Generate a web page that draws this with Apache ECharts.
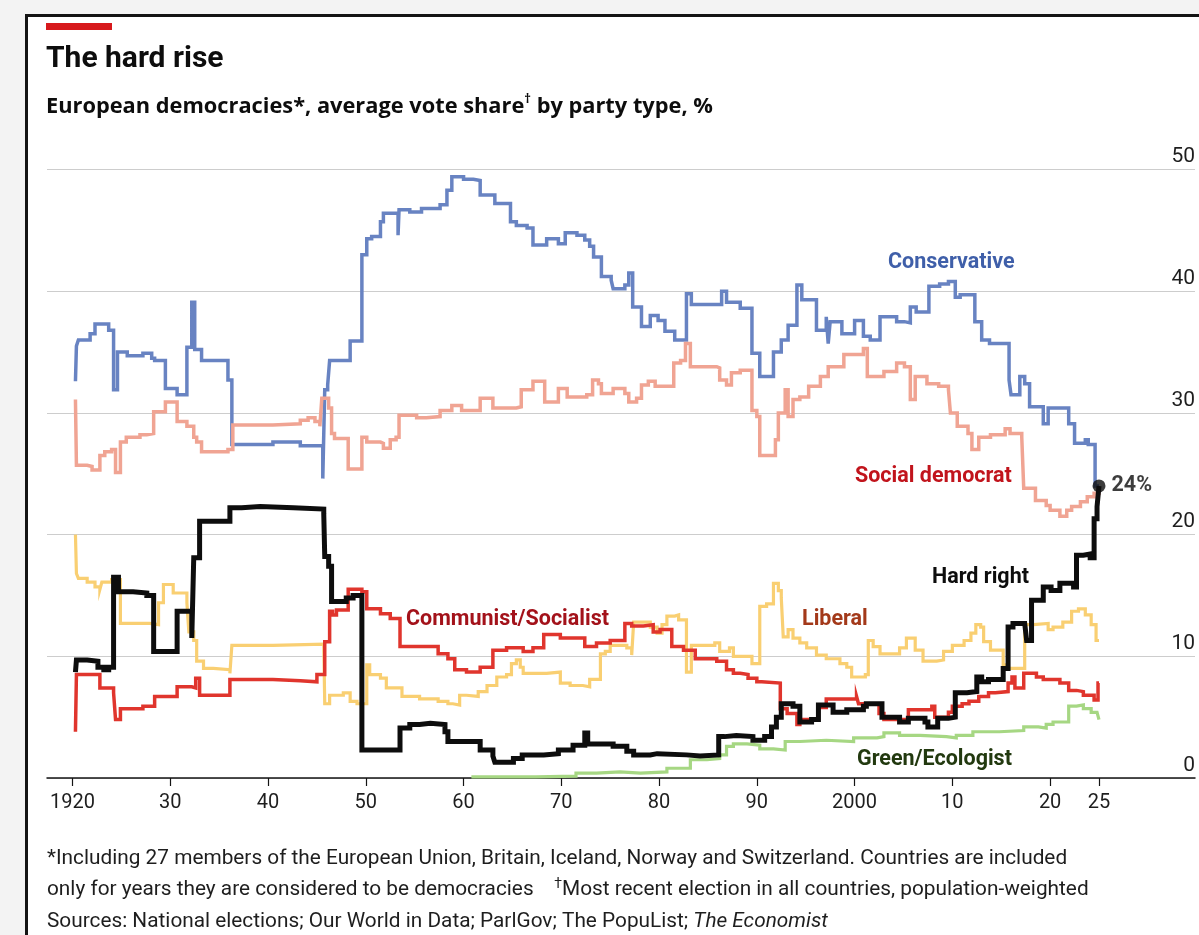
<!DOCTYPE html>
<html>
<head>
<meta charset="utf-8">
<script src="https://cdn.jsdelivr.net/npm/echarts@6/dist/echarts.min.js"></script>
<style>
  html, body { margin: 0; padding: 0; width: 1199px; height: 935px; overflow: hidden; background: #f3f3f3; }
  #card { position: absolute; left: 25px; top: 14px; width: 1300px; height: 1000px; background: #ffffff;
          border-left: 3px solid #141414; border-top: 3px solid #141414; }
  #chart { position: absolute; left: 0; top: 0; width: 1199px; height: 935px; }
</style>
</head>
<body>
<div id="card"></div>
<div id="chart"></div>
<script>
// Average vote share by party family, European democracies, 1920-2025 (% of vote)
const conservativeYears = [1920.3, 1920.4, 1920.6, 1921.8, 1922.3, 1923.7, 1924.2, 1924.6, 1925.6, 1927.2, 1928.1, 1928.4, 1929.5, 1930.7, 1931.7, 1932.2, 1932.5, 1933.2, 1935.9, 1936.3, 1940.5, 1943.3, 1945.6, 1945.8, 1946.1, 1946.3, 1948.4, 1949.6, 1950.1, 1950.6, 1951.5, 1951.8, 1953.3, 1953.4, 1954.5, 1955.7, 1957.6, 1958.3, 1958.8, 1960.0, 1961.0, 1961.7, 1963.2, 1964.8, 1965.4, 1966.5, 1967.1, 1968.5, 1969.7, 1970.4, 1971.6, 1972.4, 1972.9, 1973.3, 1974.1, 1975.1, 1975.3, 1976.5, 1976.9, 1977.3, 1978.2, 1979.1, 1979.9, 1980.6, 1981.6, 1982.8, 1983.3, 1986.4, 1986.9, 1988.3, 1989.5, 1990.3, 1991.7, 1992.5, 1993.2, 1994.1, 1994.6, 1996.1, 1997.1, 1997.3, 1997.5, 1998.7, 2000.0, 2000.9, 2001.6, 2002.6, 2004.3, 2005.1, 2005.7, 2006.3, 2007.6, 2008.7, 2009.6, 2010.3, 2010.8, 2012.3, 2013.0, 2013.8, 2015.8, 2016.0, 2016.9, 2017.4, 2017.9, 2019.3, 2019.8, 2021.9, 2022.5, 2023.6, 2023.9, 2024.6, 2025];
const conservativeShare = [32.6, 35.5, 36.0, 36.5, 37.3, 36.8, 31.9, 35.0, 34.7, 34.9, 34.5, 34.3, 32.0, 31.5, 35.4, 39.1, 35.2, 34.3, 32.7, 27.4, 27.6, 27.3, 24.6, 31.9, 32.3, 34.3, 35.9, 43.0, 44.3, 44.5, 45.7, 46.4, 44.6, 46.7, 46.5, 46.8, 47.1, 48.3, 49.4, 49.2, 49.1, 47.9, 47.2, 45.7, 45.4, 45.2, 43.8, 44.3, 43.9, 44.8, 44.6, 44.2, 43.7, 42.8, 41.2, 40.9, 40.2, 40.5, 41.5, 38.7, 37.1, 38.0, 37.6, 36.7, 36.0, 39.8, 38.9, 40.0, 39.1, 38.6, 34.9, 33.0, 35.0, 36.0, 37.2, 40.5, 39.3, 36.8, 37.9, 35.7, 37.5, 36.5, 37.6, 36.3, 36.0, 37.9, 37.5, 37.4, 38.7, 38.3, 40.4, 40.6, 40.8, 39.5, 39.7, 37.5, 36.0, 35.7, 32.7, 31.5, 33.0, 32.4, 30.5, 29.1, 30.4, 29.1, 27.5, 27.8, 27.4, 24.0, 24.0];

const socialDemYears = [1920.3, 1920.4, 1921.5, 1922.0, 1922.8, 1923.3, 1924.0, 1924.4, 1924.9, 1925.5, 1926.9, 1927.6, 1928.3, 1929.5, 1930.7, 1931.7, 1932.4, 1932.7, 1933.2, 1935.9, 1936.4, 1940.5, 1943.3, 1944.1, 1944.8, 1945.3, 1945.5, 1946.2, 1946.5, 1946.8, 1948.2, 1949.6, 1950.1, 1951.5, 1951.8, 1952.5, 1953.1, 1953.4, 1955.2, 1956.2, 1957.6, 1958.8, 1959.8, 1961.7, 1963.0, 1965.4, 1965.9, 1967.1, 1968.3, 1969.7, 1970.6, 1972.6, 1973.2, 1973.8, 1974.1, 1975.3, 1976.5, 1976.9, 1977.7, 1978.2, 1978.9, 1979.6, 1981.5, 1982.2, 1982.7, 1983.2, 1985.9, 1986.2, 1986.9, 1987.4, 1988.3, 1989.5, 1990.0, 1990.3, 1991.9, 1992.2, 1992.9, 1993.2, 1993.7, 1994.4, 1995.3, 1996.5, 1997.3, 1998.9, 2000.9, 2001.3, 2003.0, 2004.3, 2005.1, 2005.7, 2006.2, 2007.4, 2008.6, 2009.6, 2009.8, 2010.5, 2011.6, 2012.0, 2012.7, 2013.9, 2015.4, 2015.9, 2017.1, 2017.3, 2018.5, 2019.6, 2020.0, 2021.0, 2021.7, 2022.2, 2023.1, 2023.8, 2024.5, 2025];
const socialDemShare = [31.1, 25.7, 25.6, 25.3, 26.5, 26.8, 27.0, 25.1, 27.6, 28.0, 28.2, 28.3, 30.1, 30.9, 29.3, 28.9, 28.0, 27.6, 26.8, 27.0, 29.0, 29.1, 29.4, 29.6, 29.3, 28.9, 31.2, 30.4, 28.3, 27.9, 25.4, 28.0, 27.6, 27.5, 27.1, 27.8, 28.0, 29.8, 29.6, 29.7, 30.2, 30.6, 30.2, 31.2, 30.4, 30.5, 31.9, 32.6, 30.9, 32.0, 31.3, 31.5, 32.7, 32.4, 31.6, 32.0, 31.6, 30.9, 31.2, 32.3, 32.6, 32.2, 34.1, 34.3, 35.7, 33.8, 33.7, 32.7, 32.3, 33.3, 33.5, 30.2, 29.7, 26.5, 27.8, 30.0, 31.9, 29.7, 31.1, 31.3, 32.2, 33.0, 33.8, 34.8, 35.3, 33.0, 33.4, 34.1, 33.8, 31.1, 33.0, 32.4, 32.2, 31.9, 30.0, 28.9, 28.3, 27.0, 28.0, 28.2, 28.7, 28.3, 28.0, 23.8, 22.8, 22.4, 22.0, 21.5, 22.0, 22.3, 22.7, 23.1, 23.4, 23.6];

const liberalYears = [1920.3, 1920.4, 1920.6, 1921.5, 1922.3, 1922.8, 1923.0, 1924.0, 1924.9, 1927.9, 1928.8, 1929.3, 1930.3, 1931.7, 1931.9, 1932.4, 1932.7, 1933.4, 1934.4, 1936.1, 1936.3, 1940.5, 1945.7, 1945.8, 1946.3, 1947.7, 1948.4, 1949.1, 1950.1, 1950.4, 1951.5, 1952.1, 1953.7, 1955.5, 1957.4, 1958.4, 1958.9, 1959.6, 1960.3, 1961.5, 1962.4, 1963.4, 1964.4, 1964.9, 1965.4, 1965.8, 1966.1, 1968.5, 1969.9, 1970.9, 1972.2, 1972.9, 1974.0, 1974.5, 1975.0, 1976.7, 1977.2, 1977.4, 1979.1, 1979.8, 1980.3, 1980.8, 1981.6, 1982.0, 1982.8, 1983.3, 1985.7, 1986.2, 1987.2, 1987.6, 1989.5, 1990.3, 1991.0, 1991.7, 1992.2, 1992.5, 1992.7, 1993.2, 1993.7, 1994.4, 1995.1, 1996.1, 1997.1, 1998.5, 1999.2, 1999.7, 2001.1, 2001.4, 2001.9, 2002.6, 2004.6, 2005.3, 2006.2, 2007.0, 2008.4, 2009.1, 2010.0, 2011.2, 2011.9, 2012.4, 2012.9, 2013.2, 2013.9, 2015.2, 2015.7, 2017.4, 2018.3, 2019.8, 2020.3, 2021.3, 2022.2, 2022.9, 2023.6, 2024.2, 2024.7, 2025];
const liberalShare = [20.0, 16.8, 16.4, 16.1, 15.7, 15.5, 16.1, 16.3, 12.7, 12.6, 14.4, 15.9, 15.2, 14.4, 12.0, 11.3, 9.6, 9.0, 8.9, 8.6, 10.9, 11.0, 11.1, 6.1, 6.8, 7.0, 6.3, 6.1, 9.3, 8.5, 8.2, 7.4, 6.7, 6.5, 6.3, 6.1, 6.0, 6.8, 6.7, 7.1, 7.6, 8.3, 8.5, 9.4, 9.7, 9.1, 8.6, 8.7, 7.8, 7.6, 7.5, 8.1, 10.2, 10.4, 10.9, 10.7, 10.1, 12.8, 12.4, 11.9, 12.6, 13.3, 13.4, 13.0, 8.7, 10.9, 11.1, 10.4, 10.7, 10.0, 9.4, 14.1, 14.3, 16.0, 15.4, 14.8, 11.6, 12.2, 11.5, 11.1, 10.7, 10.1, 9.8, 9.4, 9.1, 8.3, 8.5, 11.3, 10.8, 10.2, 10.7, 11.5, 10.5, 9.6, 9.7, 10.4, 10.9, 11.3, 11.9, 12.6, 12.4, 11.2, 10.5, 9.3, 9.0, 12.6, 12.7, 12.2, 12.4, 12.8, 13.7, 13.9, 13.4, 12.6, 11.3, 11.3];

const communistYears = [1920.3, 1920.4, 1922.8, 1924.2, 1924.4, 1924.9, 1927.2, 1928.4, 1930.7, 1932.2, 1932.6, 1933.0, 1936.1, 1940.5, 1943.3, 1945.0, 1945.8, 1946.3, 1946.6, 1947.0, 1948.2, 1949.6, 1950.1, 1951.5, 1952.5, 1953.5, 1957.4, 1958.4, 1959.1, 1960.3, 1961.7, 1963.0, 1964.4, 1966.1, 1967.1, 1968.2, 1969.9, 1972.4, 1973.6, 1975.0, 1976.5, 1977.2, 1978.4, 1979.4, 1980.1, 1981.3, 1982.5, 1983.7, 1985.9, 1986.9, 1987.6, 1988.3, 1989.1, 1990.0, 1990.5, 1992.4, 1993.1, 1994.1, 1994.4, 1996.3, 1997.1, 2000.2, 2000.4, 2002.5, 2003.0, 2005.5, 2007.9, 2008.2, 2009.6, 2010.0, 2011.0, 2011.7, 2012.7, 2013.7, 2014.4, 2015.7, 2016.1, 2016.4, 2017.3, 2018.6, 2019.3, 2021.0, 2021.9, 2022.7, 2023.4, 2024.5, 2024.9, 2025];
const communistShare = [3.8, 8.5, 7.4, 7.0, 4.8, 5.7, 5.9, 6.7, 7.5, 7.4, 8.2, 6.8, 8.1, 8.0, 7.9, 8.5, 11.2, 13.7, 13.4, 13.8, 15.5, 15.3, 13.9, 13.5, 13.1, 10.8, 10.2, 9.8, 8.9, 8.7, 9.1, 10.5, 10.7, 10.4, 10.7, 11.8, 11.5, 10.8, 11.1, 11.3, 12.7, 12.5, 12.6, 12.0, 12.2, 10.8, 10.5, 9.8, 9.6, 8.9, 8.6, 8.5, 8.2, 7.9, 7.8, 5.7, 5.3, 4.4, 4.8, 5.8, 6.5, 6.7, 6.1, 5.3, 4.8, 5.6, 5.9, 5.0, 5.4, 5.9, 6.1, 6.3, 6.7, 7.0, 7.1, 7.8, 8.3, 7.4, 8.6, 8.3, 8.1, 7.8, 7.2, 7.1, 6.8, 6.4, 7.8, 7.8];

const greenYears = [1960.8, 1967.4, 1971.5, 1973.6, 1976.0, 1978.1, 1980.8, 1983.2, 1984.9, 1986.2, 1986.9, 1987.6, 1989.0, 1990.3, 1991.7, 1992.9, 1994.4, 1997.1, 1999.9, 2002.3, 2003.0, 2004.6, 2006.7, 2009.4, 2010.4, 2012.1, 2014.8, 2017.3, 2018.8, 2019.6, 2020.3, 2021.9, 2022.7, 2023.4, 2024.2, 2024.8, 2025];
const greenShare = [0.1, 0.15, 0.4, 0.5, 0.4, 0.5, 0.8, 1.5, 1.6, 1.9, 2.6, 2.8, 2.7, 2.4, 2.3, 3.0, 3.1, 3.0, 3.3, 3.4, 3.7, 3.5, 3.4, 3.3, 3.5, 3.8, 3.9, 4.2, 4.1, 4.4, 4.6, 5.9, 6.0, 5.7, 5.4, 5.3, 4.8];

const hardRightYears = [1920.3, 1920.4, 1921.5, 1922.6, 1923.2, 1923.7, 1924.2, 1924.7, 1926.2, 1927.6, 1928.3, 1930.7, 1932.2, 1932.4, 1933.0, 1936.1, 1937.3, 1939.2, 1942.6, 1945.7, 1945.8, 1946.2, 1946.5, 1948.0, 1948.7, 1949.6, 1953.5, 1954.5, 1955.5, 1956.6, 1958.1, 1958.4, 1961.7, 1963.0, 1963.2, 1965.1, 1966.0, 1968.2, 1969.7, 1971.2, 1972.4, 1972.7, 1975.3, 1976.7, 1977.4, 1979.1, 1979.8, 1982.8, 1984.2, 1986.1, 1986.7, 1987.9, 1989.6, 1990.8, 1991.5, 1992.0, 1992.5, 1993.7, 1994.4, 1995.6, 1996.3, 1997.8, 1999.2, 2000.9, 2001.2, 2002.8, 2004.6, 2005.5, 2007.2, 2007.5, 2008.5, 2009.6, 2010.3, 2011.5, 2012.5, 2013.0, 2013.7, 2015.2, 2015.7, 2016.2, 2017.4, 2017.6, 2018.1, 2019.3, 2020.1, 2021.0, 2022.4, 2022.7, 2023.4, 2024.1, 2024.5, 2024.8, 2025];
const hardRightShare = [8.7, 9.7, 9.6, 9.1, 8.9, 9.1, 16.5, 15.3, 15.2, 15.0, 10.4, 13.7, 11.5, 18.1, 21.1, 22.2, 22.3, 22.2, 22.1, 21.7, 18.2, 17.4, 14.5, 14.8, 15.0, 2.3, 4.1, 4.4, 4.5, 4.4, 3.8, 3.0, 2.3, 1.8, 1.3, 1.6, 1.9, 2.0, 2.3, 2.7, 3.7, 2.8, 2.6, 2.2, 1.9, 2.0, 1.9, 1.8, 1.9, 3.4, 3.5, 3.4, 3.1, 3.4, 4.2, 5.0, 6.1, 5.9, 4.6, 4.8, 6.0, 5.4, 5.6, 5.9, 6.1, 5.0, 4.6, 4.9, 4.6, 4.2, 4.9, 5.0, 7.0, 7.1, 8.3, 7.9, 8.1, 9.0, 12.4, 12.7, 12.8, 11.3, 14.6, 15.7, 15.4, 16.0, 15.7, 18.3, 18.4, 18.1, 21.3, 22.3, 24];

const tickYears = [1920, 1930, 1940, 1950, 1960, 1970, 1980, 1990, 2000, 2010, 2020, 2025];
const shareTicks = [0, 10, 20, 30, 40, 50];

const FONT = 'Roboto, "Noto Sans", sans-serif';
const WIDE = '"Open Sans", Roboto, sans-serif';

function pairs(xs, ys) { return xs.map((x, i) => [x, ys[i]]); }

function stepSeries(name, xs, ys, color, width, z) {
  return {
    name: name,
    type: 'line',
    step: 'end',
    data: pairs(xs, ys),
    showSymbol: false,
    symbol: 'none',
    silent: true,
    z: z,
    lineStyle: { color: color, width: width, join: 'miter', cap: 'butt' }
  };
}

const lastRight = hardRightShare[hardRightShare.length - 1];
const lastRightYear = hardRightYears[hardRightYears.length - 1];

const chart = echarts.init(document.getElementById('chart'), null, { renderer: 'canvas' });

function seriesLabel(text, x, y, color) {
  return {
    type: 'text', left: x, top: y,
    style: { text: text, fill: color, font: 'bold 21.5px ' + FONT }
  };
}

chart.setOption({
  backgroundColor: 'transparent',
  animation: false,
  grid: { left: 47, right: 4, top: 169.5, bottom: 157, containLabel: false },
  xAxis: {
    type: 'value',
    min: 1917.39,
    max: 2034.82,
    axisLine: { show: true, onZero: false, lineStyle: { color: '#141414', width: 1.5 } },
    axisTick: { show: true, customValues: tickYears, length: 8, lineStyle: { color: '#141414', width: 1.2 } },
    axisLabel: {
      customValues: tickYears,
      color: '#1e1e1e', fontFamily: FONT, fontSize: 20, margin: 15,
      formatter: function (v) {
        return (v === 1920 || v === 2000) ? String(v) : String(v % 100).padStart(2, '0');
      }
    },
    splitLine: { show: false }
  },
  yAxis: {
    type: 'value',
    position: 'right',
    min: 0, max: 50, interval: 10,
    axisLine: { show: false },
    axisTick: { show: false },
    axisLabel: {
      inside: true, margin: 0, verticalAlign: 'bottom', padding: [0, 0, 2, 0],
      color: '#1e1e1e', fontFamily: FONT, fontSize: 21,
      formatter: function (v) { return shareTicks.includes(v) ? String(v) : ''; }
    },
    splitLine: { show: true, lineStyle: { color: '#cdcdcd', width: 1 } }
  },
  series: [
    stepSeries('Conservative', conservativeYears, conservativeShare, '#6883c2', 3.5, 2),
    stepSeries('Social democrat', socialDemYears, socialDemShare, '#f0a493', 3.5, 3),
    stepSeries('Liberal', liberalYears, liberalShare, '#f9cf72', 3.2, 4),
    stepSeries('Communist/Socialist', communistYears, communistShare, '#e0352d', 3.5, 5),
    stepSeries('Green/Ecologist', greenYears, greenShare, '#a6d783', 3.2, 6),
    stepSeries('Hard right', hardRightYears, hardRightShare, '#0d0d0d', 5, 8),
    {
      name: 'Hard right latest',
      type: 'scatter',
      data: [[lastRightYear, lastRight]],
      symbol: 'circle',
      symbolSize: 13,
      z: 9,
      silent: true,
      itemStyle: { color: '#0d0d0d' },
      label: {
        show: true, position: 'right', distance: 6,
        formatter: function (p) { return Math.round(p.value[1]) + '%'; },
        color: '#0d0d0d', fontFamily: FONT, fontWeight: 'bold', fontSize: 21.5
      }
    }
  ],
  graphic: [
    { type: 'rect', left: 46, top: 23, shape: { width: 66, height: 7 }, style: { fill: '#d7191c' } },
    { type: 'text', left: 46, top: 44, style: { text: 'The hard rise', fill: '#0d0d0d', font: 'bold 30px ' + FONT } },
    {
      type: 'text', left: 46, top: 93,
      style: {
        text: '{a|European democracies*, average vote share}{s|†}{a| by party type, %}',
        rich: {
          a: { fill: '#0d0d0d', font: 'bold 21.8px ' + WIDE, lineHeight: 28 },
          s: { fill: '#0d0d0d', font: 'bold 13px ' + WIDE, verticalAlign: 'top', lineHeight: 28, padding: [0, 0, 10, 0] }
        }
      }
    },
    seriesLabel('Conservative', 888, 252, '#3f5fa9'),
    seriesLabel('Social democrat', 855, 466, '#c1141c'),
    seriesLabel('Hard right', 932, 567, '#0d0d0d'),
    seriesLabel('Communist/Socialist', 406, 609, '#a3121a'),
    seriesLabel('Liberal', 802, 609, '#a3391a'),
    seriesLabel('Green/Ecologist', 857, 749, '#22390f'),
    {
      type: 'text', left: 47, top: 848,
      style: { text: '*Including 27 members of the European Union, Britain, Iceland, Norway and Switzerland. Countries are included', fill: '#1e1e1e', font: '20.8px ' + FONT }
    },
    {
      type: 'text', left: 47, top: 877,
      style: {
        text: '{a|only for years they are considered to be democracies    }{s|†}{a|Most recent election in all countries, population-weighted}',
        rich: {
          a: { fill: '#1e1e1e', font: '20.8px ' + FONT, lineHeight: 26 },
          s: { fill: '#1e1e1e', font: '14px ' + FONT, verticalAlign: 'top', lineHeight: 26, padding: [0, 0, 8, 0] }
        }
      }
    },
    {
      type: 'text', left: 47, top: 911,
      style: {
        text: '{a|Sources: National elections; Our World in Data; ParlGov; The PopuList; }{i|The Economist}',
        rich: {
          a: { fill: '#1e1e1e', font: '20.8px ' + FONT },
          i: { fill: '#1e1e1e', font: 'italic 20.8px ' + FONT }
        }
      }
    }
  ]
});
</script>
</body>
</html>
